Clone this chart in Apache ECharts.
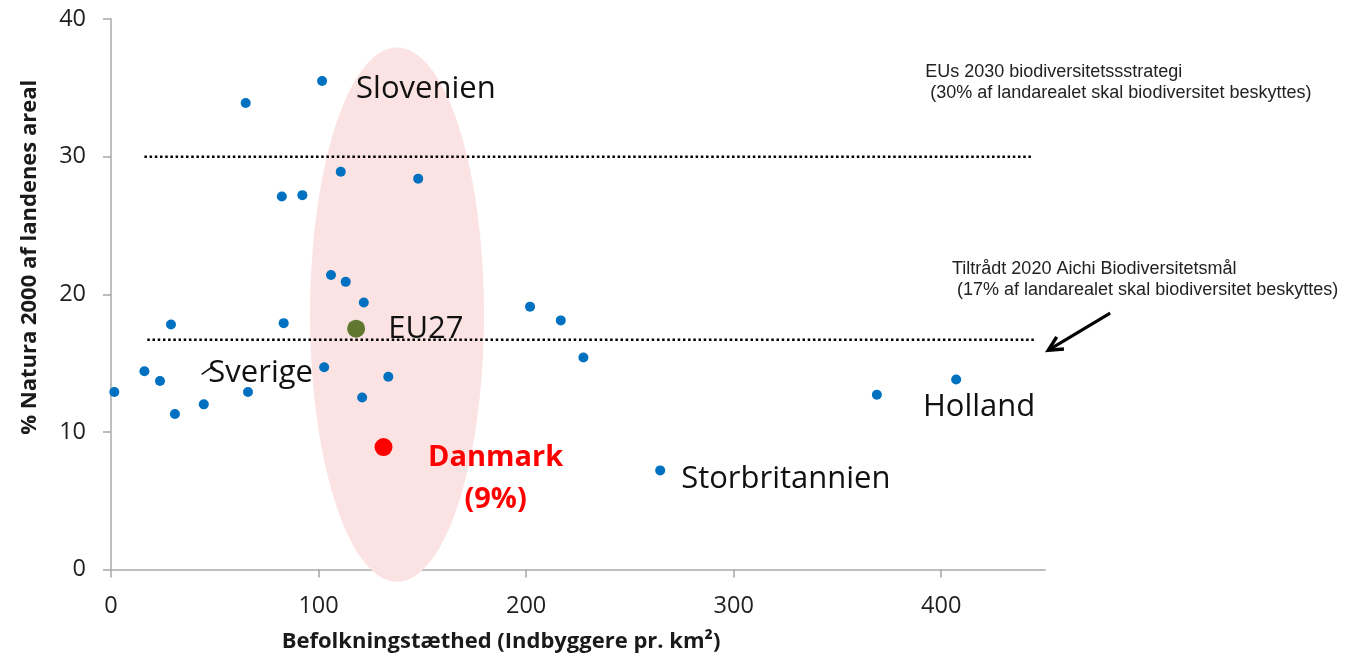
<!DOCTYPE html>
<html><head><meta charset="utf-8">
<script src="https://cdn.jsdelivr.net/npm/echarts@6/dist/echarts.min.js"></script>
<style>html,body{margin:0;padding:0;background:#fff}#c{width:1366px;height:661px}</style>
</head><body><div id="c"></div>
<script>
// ---- data ----
const countryDensity = [1.6,16.1,23.6,28.9,30.8,44.7,64.9,66.0,82.3,83.2,92.2,101.7,102.7,106.0,110.7,113.1,121.8,121.0,133.6,148.0,201.9,216.7,227.6,264.6,369.0,407.2];
const countryNatura  = [12.9,14.4,13.7,17.8,11.3,12.0,33.9,12.9,27.1,17.9,27.2,35.5,14.7,21.4,28.9,20.9,19.4,12.5,14.0,28.4,19.1,18.1,15.4,7.2,12.7,13.8];
const eu27 = [118.1, 17.5];
const danmark = [131.3, 8.9];
const xTicks = [0, 100, 200, 300, 400];
const yTicks = [0, 10, 20, 30, 40];
const targetLevels = [30, 16.7];
const targetStart = [16.1, 17.5];
const targetEnd = [443.7, 445.3];
const labelNames = ['Slovenien', 'EU27', 'Sverige', 'Holland', 'Storbritannien'];
const labelX = [118.1, 133.6, 46.9, 391.2, 274.7];
const labelY = [34.88, 17.48, 14.26, 11.8, 6.57];
const danmarkLabel = 'Danmark\n(9%)';
const danmarkLabelPos = [185.3, 6.62];
const noteTexts = ['EUs 2030 biodiversitetssstrategi\n (30% af landarealet skal biodiversitet beskyttes)',
                   'Tiltrådt 2020 Aichi Biodiversitetsmål\n (17% af landarealet skal biodiversitet beskyttes)'];
const noteX = [392.3, 405.2];
const noteY = [35.35, 21.04];
const highlightEllipse = [137.8, 18.52, 41.9, 19.41]; // centre x, centre y, radius x, radius y (data units)
const arrowFrom = [481.4, 18.63];
const arrowTo = [451.6, 15.94];
const sverigeLeader = [[43.7, 14.18], [48.8, 14.73], [50.4, 14.52]];

// ---- chart ----
const FONT = '"Open Sans", "Noto Sans", sans-serif';
const ARIAL = '"Liberation Sans", Arial, sans-serif';
const chart = echarts.init(document.getElementById('c'));

const option = {
  animation: false,
  grid: { left: 111, right: 321, top: 19, bottom: 91.5 },
  xAxis: {
    type: 'value', min: 0, max: 450, interval: 100,
    name: 'Befolkningstæthed (Indbyggere pr. km²)', nameLocation: 'middle', nameGap: 61,
    nameTextStyle: { fontFamily: FONT, fontWeight: 'bold', fontSize: 22, color: '#1a1a1a', padding: [0, 154, 0, 0] },
    axisLine: { show: true, onZero: false, lineStyle: { color: '#bfbfbf', width: 2 } },
    axisTick: { show: true, length: 8, customValues: xTicks, lineStyle: { color: '#a6a6a6', width: 1.5 } },
    axisLabel: { customValues: xTicks, margin: 25, fontFamily: FONT, fontSize: 23.5, color: '#1f1f1f' },
    splitLine: { show: false }
  },
  yAxis: {
    type: 'value', min: 0, max: 40, interval: 10,
    name: '% Natura 2000 af landenes areal', nameLocation: 'middle', nameGap: 70,
    nameTextStyle: { fontFamily: FONT, fontWeight: 'bold', fontSize: 22, color: '#1a1a1a', padding: [0, 0, 0, 74] },
    axisLine: { show: true, onZero: false, lineStyle: { color: '#bfbfbf', width: 2 } },
    axisTick: { show: true, length: 8, customValues: yTicks, lineStyle: { color: '#a6a6a6', width: 1.5 } },
    axisLabel: { customValues: yTicks, margin: 25, fontFamily: FONT, fontSize: 23.5, color: '#1f1f1f' },
    splitLine: { show: false }
  },
  series: [
    {
      type: 'custom', silent: true, z: 1,
      data: [highlightEllipse],
      renderItem: function (params, api) {
        const c = api.coord([api.value(0), api.value(1)]);
        const s = api.size([api.value(2), api.value(3)]);
        const pts = [];
        for (let k = 0; k < 120; k++) {
          const a = k / 120 * Math.PI * 2;
          pts.push([c[0] + s[0] * Math.cos(a), c[1] + s[1] * Math.sin(a)]);
        }
        return { type: 'polygon', shape: { points: pts }, style: { fill: '#fce3e3', stroke: null } };
      }
    },
    {
      type: 'line', silent: true, symbol: 'none', z: 2,
      data: [[targetStart[0], targetLevels[0]], [targetEnd[0], targetLevels[0]]],
      lineStyle: { color: '#000', width: 2.5, type: [2.5, 2.7] }
    },
    {
      type: 'line', silent: true, symbol: 'none', z: 2,
      data: [[targetStart[1], targetLevels[1]], [targetEnd[1], targetLevels[1]]],
      lineStyle: { color: '#000', width: 2.5, type: [2.5, 2.7] }
    },
    {
      type: 'scatter', z: 3, symbolSize: 10,
      itemStyle: { color: '#0070C0', opacity: 1 },
      data: countryDensity.map((x, i) => [x, countryNatura[i]])
    },
    {
      type: 'scatter', z: 3, symbolSize: 18,
      itemStyle: { color: '#5f772e', opacity: 1 },
      data: [eu27]
    },
    {
      type: 'scatter', z: 3, symbolSize: 18,
      itemStyle: { color: '#ff0000', opacity: 1 },
      data: [danmark]
    },
    {
      type: 'custom', silent: true, z: 4,
      data: labelX.map((x, i) => [x, labelY[i]]),
      renderItem: function (params, api) {
        const p = api.coord([api.value(0), api.value(1)]);
        return { type: 'text', x: p[0], y: p[1],
          style: { text: labelNames[params.dataIndex], fill: '#111', fontFamily: FONT, fontSize: 31,
                   align: 'left', verticalAlign: 'middle' } };
      }
    },
    {
      type: 'custom', silent: true, z: 4,
      data: [danmarkLabelPos],
      renderItem: function (params, api) {
        const p = api.coord([api.value(0), api.value(1)]);
        return { type: 'text', x: p[0], y: p[1],
          style: { text: danmarkLabel, fill: '#ff0000', fontFamily: FONT, fontWeight: 'bold', fontSize: 29,
                   lineHeight: 42, align: 'center', verticalAlign: 'middle' } };
      }
    },
    {
      type: 'custom', silent: true, z: 4,
      data: noteX.map((x, i) => [x, noteY[i]]),
      renderItem: function (params, api) {
        const p = api.coord([api.value(0), api.value(1)]);
        return { type: 'text', x: p[0], y: p[1],
          style: { text: noteTexts[params.dataIndex], fill: '#222', fontFamily: ARIAL, fontSize: 18,
                   lineHeight: 21, align: 'left', verticalAlign: 'middle' } };
      }
    },
    {
      type: 'custom', silent: true, z: 4,
      data: [[arrowFrom[0], arrowFrom[1], arrowTo[0], arrowTo[1]]],
      renderItem: function (params, api) {
        const a = api.coord([api.value(0), api.value(1)]);
        const b = api.coord([api.value(2), api.value(3)]);
        const dx = b[0] - a[0], dy = b[1] - a[1];
        const len = Math.sqrt(dx * dx + dy * dy);
        const ux = dx / len, uy = dy / len;
        const L = 14, W = 7;
        const w1 = [b[0] - ux * L - uy * W, b[1] - uy * L + ux * W];
        const w2 = [b[0] - ux * L + uy * W, b[1] - uy * L - ux * W];
        const leader = sverigeLeader.map(q => api.coord(q));
        return { type: 'group', children: [
          { type: 'line', shape: { x1: a[0], y1: a[1], x2: b[0] - ux * 2, y2: b[1] - uy * 2 }, style: { stroke: '#000', lineWidth: 3 } },
          { type: 'polyline', shape: { points: [w1, b, w2] }, style: { stroke: '#000', lineWidth: 3.5, fill: null, lineJoin: 'miter' } },
          { type: 'polyline', shape: { points: leader }, style: { stroke: '#111', lineWidth: 1.5, fill: null } }
        ] };
      }
    }
  ]
};
chart.setOption(option);
</script>
</body></html>
